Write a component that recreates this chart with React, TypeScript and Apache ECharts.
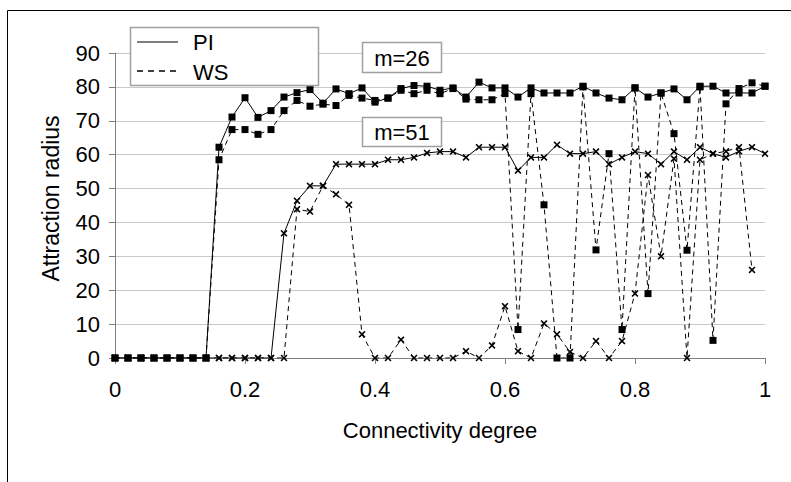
import React, { useEffect, useRef } from "react";
import * as echarts from "echarts";

const degree = [
  0, 0.02, 0.04, 0.06, 0.08, 0.1, 0.12, 0.14, 0.16, 0.18, 0.2, 0.22, 0.24, 0.26, 0.28, 0.3, 0.32,
  0.34, 0.36, 0.38, 0.4, 0.42, 0.44, 0.46, 0.48, 0.5, 0.52, 0.54, 0.56, 0.58, 0.6, 0.62, 0.64,
  0.66, 0.68, 0.7, 0.72, 0.74, 0.76, 0.78, 0.8, 0.82, 0.84, 0.86, 0.88, 0.9, 0.92, 0.94, 0.96,
  0.98, 1,
];

const piM26 = [
  0, 0, 0, 0, 0, 0, 0, 0, 62.2, 71.1, 76.8, 71, 73, 77, 78.3, 79.2, 75.2,
  79.4, 78, 79.7, 75.5, 76.7, 79.5, 80.4, 80.2, 79, 79.7, 77, 81.4, 79.7, 79.7, 77, 79.7,
  78.2, 78.2, 78.2, 80.2, 78.2, 76.7, 76.2, 79.7, 77, 78.2, 79.4, 76.2, 80.2, 80.2, 78.2, 78.2,
  78.2, 80.2,
];

const wsM26 = [
  0, 0, 0, 0, 0, 0, 0, 0, 58.5, 67.4, 67.4, 66, 67.4, 73, 76, 74.3, 74.9,
  74.5, 77.5, 76.7, 76, 76.7, 79, 78, 79, 78, 79.5, 76.4, 76.2, 76.2, 78, 8.4, 78,
  45.2, 0, 0, 80, 31.9, 60.3, 8.4, 79.7, 19, 78.2, 66.2, 31.8, 80, 5.2, 75, 79.5,
  81.2, 80.2,
];

const piM51 = [
  0, 0, 0, 0, 0, 0, 0, 0, 0, 0, 0, 0, 0, 36.8, 46.4, 50.8, 50.8,
  57.2, 57.2, 57.2, 57.2, 58.5, 58.5, 59.2, 60.5, 60.9, 60.9, 59.2, 62.2, 62.2, 62.2, 55.3, 59.2,
  59.2, 62.9, 60.3, 60.3, 60.9, 57.2, 59.2, 60.9, 60.3, 57.2, 60.9, 58.5, 62.2, 60.3, 59.2, 61,
  62.2, 60.3,
];

const wsM51 = [
  0, 0, 0, 0, 0, 0, 0, 0, 0, 0, 0, 0, 0, 0, 43.9, 43.2, 50.8,
  48.3, 45.2, 7, 0, 0, 5.4, 0, 0, 0, 0, 2, 0, 3.7, 15.3, 2, 0,
  10.2, 7, 1.8, 0, 5, 0, 5, 19, 54, 30, 58.8, 0, 58.5, 60.3, 61, 62.2,
  26, null,
];

const legendLabels = ["PI", "WS"];
const annotations = ["m=26", "m=51"];

const FONT = "'Liberation Sans', Arial, sans-serif";
const CROSS =
  "path://M0,1.6L1.6,0L5,3.4L8.4,0L10,1.6L6.6,5L10,8.4L8.4,10L5,6.6L1.6,10L0,8.4L3.4,5Z";

function pairs(ys: (number | null)[]) {
  return degree.map((x, i) => [x, ys[i] === null ? null : ys[i]]);
}

export default function App() {
  const ref = useRef<HTMLDivElement>(null);

  useEffect(() => {
    if (!ref.current) return;
    const chart = echarts.init(ref.current, undefined, { renderer: "svg" });

    const mk = (
      name: string,
      ys: (number | null)[],
      dashed: boolean,
      symbol: string,
      size: number
    ) => ({
      name,
      type: "line",
      data: pairs(ys),
      symbol,
      symbolSize: size,
      showSymbol: true,
      connectNulls: false,
      lineStyle: { color: "#000", width: 1, type: dashed ? [5, 4] : "solid" },
      itemStyle: { color: "#000" },
      emphasis: { disabled: true },
    });

    chart.setOption({
      animation: false,
      backgroundColor: "#fff",
      grid: { left: 115, right: 26, top: 53, bottom: 124 },
      xAxis: {
        type: "value",
        min: 0,
        max: 1,
        interval: 0.2,
        name: "Connectivity degree",
        nameLocation: "middle",
        nameGap: 61,
        nameTextStyle: { fontFamily: FONT, fontSize: 22, color: "#000" },
        axisLine: { show: true, lineStyle: { color: "#808080", width: 1 } },
        axisTick: { show: true, inside: false, length: 6, lineStyle: { color: "#808080" } },
        axisLabel: { fontFamily: FONT, fontSize: 22, color: "#000", margin: 20 },
        splitLine: { show: false },
      },
      yAxis: {
        type: "value",
        min: 0,
        max: 90,
        interval: 10,
        name: "Attraction radius",
        nameLocation: "middle",
        nameGap: 53,
        nameTextStyle: {
          fontFamily: FONT,
          fontSize: 23,
          color: "#000",
          padding: [0, 0, 0, 14],
        },
        axisLine: { show: true, lineStyle: { color: "#808080", width: 1 } },
        axisTick: { show: true, inside: false, length: 6, lineStyle: { color: "#808080" } },
        axisLabel: { fontFamily: FONT, fontSize: 22, color: "#000", margin: 15 },
        splitLine: { show: true, lineStyle: { color: "#c8c8c8", width: 1 } },
      },
      series: [
        mk("PI m=51", piM51, false, CROSS, 7),
        mk("WS m=51", wsM51, true, CROSS, 7),
        mk("WS m=26", wsM26, true, "rect", 7),
        mk("PI m=26", piM26, false, "rect", 7),
      ],
      graphic: [
        {
          type: "rect",
          shape: { x: 7.5, y: 10.5, width: 900, height: 600 },
          style: { fill: "none", stroke: "#000", lineWidth: 1 },
          silent: true,
          z: 100,
        },
        {
          type: "rect",
          shape: { x: 130.5, y: 27.5, width: 188, height: 58 },
          style: { fill: "#fff", stroke: "#a0a0a0", lineWidth: 1.5 },
          z: 100,
        },
        {
          type: "line",
          shape: { x1: 137, y1: 42, x2: 178, y2: 42 },
          style: { stroke: "#000", lineWidth: 1.2 },
          z: 101,
        },
        {
          type: "line",
          shape: { x1: 137, y1: 71, x2: 178, y2: 71 },
          style: { stroke: "#000", lineWidth: 1.5, lineDash: [6, 5] },
          z: 101,
        },
        {
          type: "text",
          x: 193,
          y: 42,
          style: {
            text: legendLabels[0],
            fontFamily: FONT,
            fontSize: 22,
            fill: "#000",
            verticalAlign: "middle",
          },
          z: 101,
        },
        {
          type: "text",
          x: 193,
          y: 72,
          style: {
            text: legendLabels[1],
            fontFamily: FONT,
            fontSize: 22,
            fill: "#000",
            verticalAlign: "middle",
          },
          z: 101,
        },
        {
          type: "rect",
          shape: { x: 362.5, y: 42.5, width: 79, height: 30 },
          style: { fill: "#fff", stroke: "#a0a0a0", lineWidth: 1.5 },
          z: 100,
        },
        {
          type: "text",
          x: 402,
          y: 58,
          style: {
            text: annotations[0],
            fontFamily: FONT,
            fontSize: 22,
            fill: "#000",
            align: "center",
            verticalAlign: "middle",
          },
          z: 101,
        },
        {
          type: "rect",
          shape: { x: 362.5, y: 117.5, width: 79, height: 29 },
          style: { fill: "#fff", stroke: "#a0a0a0", lineWidth: 1.5 },
          z: 100,
        },
        {
          type: "text",
          x: 402,
          y: 132,
          style: {
            text: annotations[1],
            fontFamily: FONT,
            fontSize: 22,
            fill: "#000",
            align: "center",
            verticalAlign: "middle",
          },
          z: 101,
        },
      ],
    });

    return () => chart.dispose();
  }, []);

  return (
    <div
      ref={ref}
      style={{ position: "fixed", left: 0, top: 0, width: 791, height: 482, background: "#fff" }}
    />
  );
}
